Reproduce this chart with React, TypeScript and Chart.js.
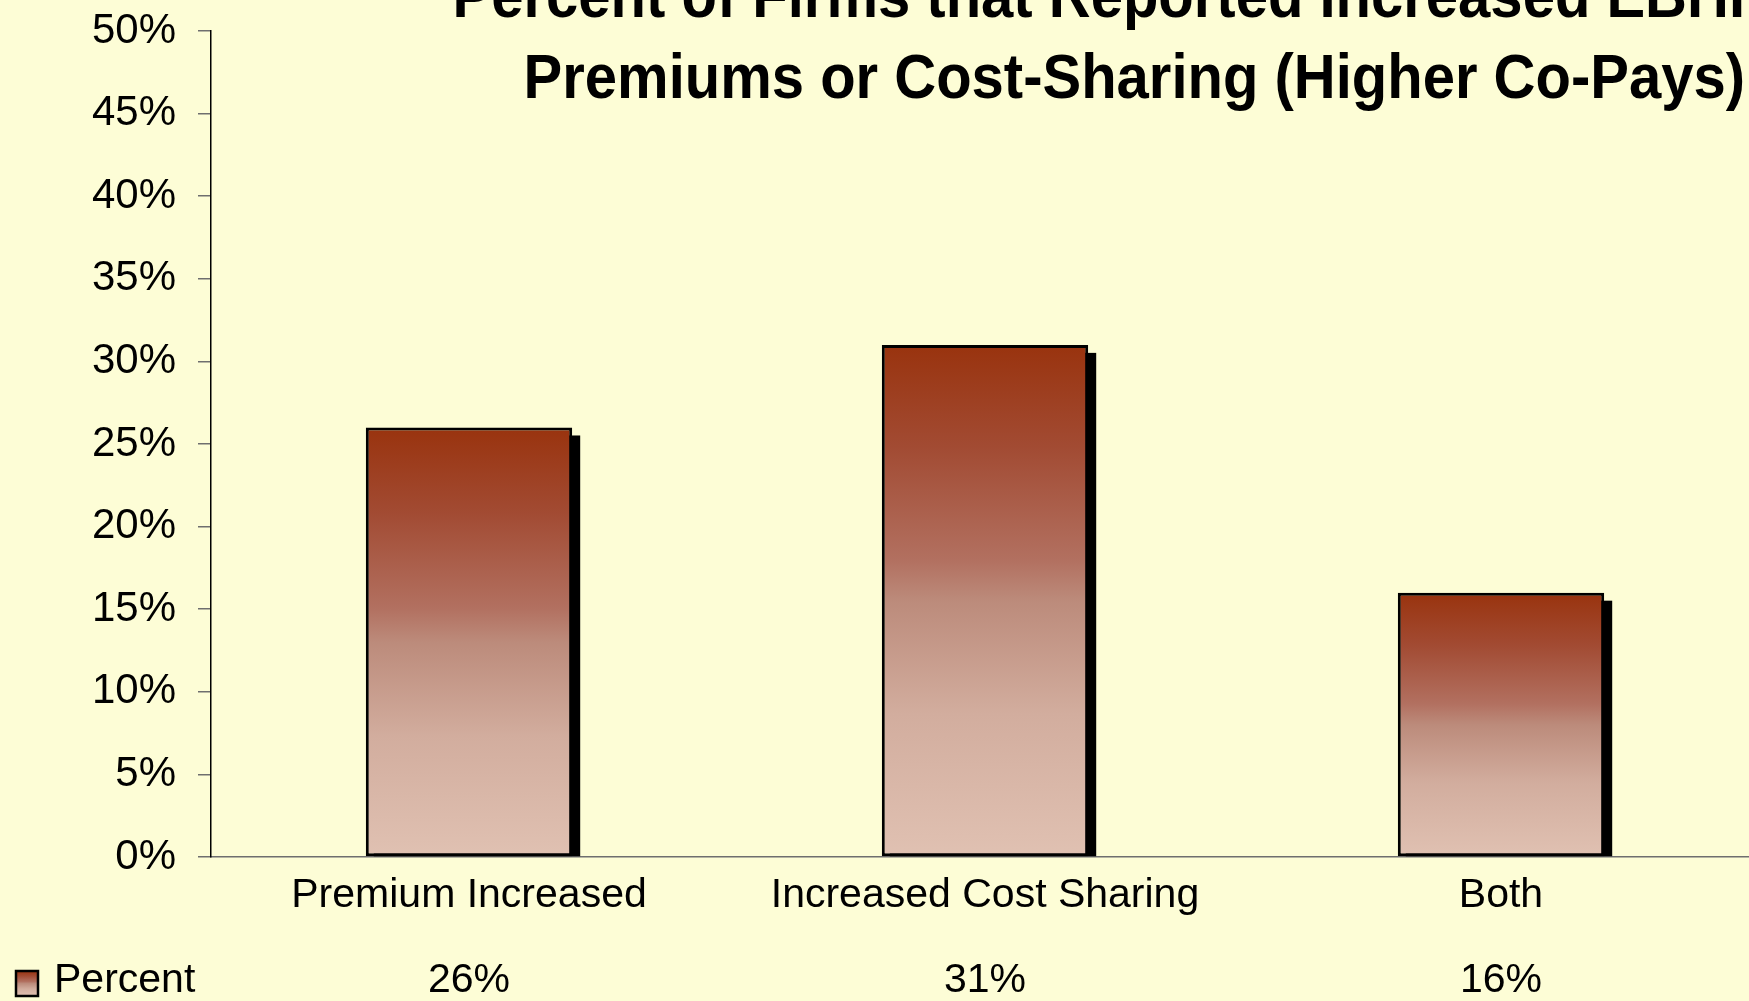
import React, { useEffect, useRef } from 'react';
import { Chart, registerables } from 'chart.js';

Chart.register(...registerables);

// ---- data ----
const TITLE_LINES = [
  'Percent of Firms that Reported Increased EBHI',
  'Premiums or Cost-Sharing (Higher Co-Pays)',
];
const CATEGORIES = ['Premium Increased', 'Increased Cost Sharing', 'Both'];
const SERIES_NAME = 'Percent';
const PERCENT_VALUES = [26, 31, 16];
const Y_MIN = 0;
const Y_MAX = 50;
const Y_STEP = 5;

// ---- styles ----
const BG = '#FDFDD6';
const FONT = "'Liberation Sans', Arial, sans-serif";
const GRAD_STOPS: [number, string][] = [
  [0, '#99330E'],
  [0.2, '#A24B33'],
  [0.42, '#B27060'],
  [0.5, '#BC8B7B'],
  [0.72, '#D2AD9E'],
  [1, '#E0C1B2'],
];
const CANVAS_W = 1759;
const CANVAS_H = 1001;

function makeGradient(ctx: CanvasRenderingContext2D, top: number, bottom: number) {
  const g = ctx.createLinearGradient(0, top, 0, bottom);
  GRAD_STOPS.forEach(([o, c]) => g.addColorStop(o, c));
  return g;
}

const shadowPlugin = {
  id: 'barShadow',
  beforeDatasetsDraw(chart: any) {
    const ctx = chart.ctx as CanvasRenderingContext2D;
    const meta = chart.getDatasetMeta(0);
    ctx.save();
    ctx.fillStyle = '#000000';
    meta.data.forEach((el: any) => {
      const { x, y, base, width } = el.getProps(['x', 'y', 'base', 'width'], true);
      const off = 8;
      ctx.fillRect(x - width / 2 + off, y + off, width, base - y - off);
    });
    ctx.restore();
  },
};

const titlePlugin = {
  id: 'slideTitle',
  afterDraw(chart: any) {
    const ctx = chart.ctx as CanvasRenderingContext2D;
    const right = chart.width - 14;
    const baselines = [17, 98];
    ctx.save();
    ctx.fillStyle = '#000000';
    ctx.font = `bold 58px ${FONT}`;
    ctx.textAlign = 'right';
    ctx.textBaseline = 'alphabetic';
    TITLE_LINES.forEach((t, i) => {
      ctx.save();
      ctx.translate(right, baselines[i]);
      ctx.scale(1, 1.08);
      ctx.fillText(t, 0, 0);
      ctx.restore();
    });
    ctx.restore();
  },
};

const tablePlugin = {
  id: 'dataTableRow',
  afterDraw(chart: any) {
    const ctx = chart.ctx as CanvasRenderingContext2D;
    const xs = chart.scales.x;
    const baseY = chart.chartArea.bottom + 135;
    ctx.save();
    ctx.fillStyle = '#000000';
    ctx.font = `41px ${FONT}`;
    ctx.textBaseline = 'alphabetic';
    ctx.textAlign = 'center';
    PERCENT_VALUES.forEach((v, i) => {
      ctx.fillText(`${v}%`, xs.getPixelForValue(i), baseY);
    });
    // legend key
    const kx = 16, ky = baseY - 21, kw = 22, kh = 25;
    ctx.fillStyle = makeGradient(ctx, ky, ky + kh);
    ctx.fillRect(kx, ky, kw, kh);
    ctx.lineWidth = 2.5;
    ctx.strokeStyle = '#000000';
    ctx.strokeRect(kx, ky, kw, kh);
    ctx.fillStyle = '#000000';
    ctx.textAlign = 'left';
    ctx.fillText(SERIES_NAME, 54, baseY);
    ctx.restore();
  },
};

export default function App() {
  const ref = useRef<HTMLCanvasElement | null>(null);

  useEffect(() => {
    document.body.style.margin = '0';
    document.body.style.background = BG;
    const canvas = ref.current!;
    const chart = new Chart(canvas, {
      type: 'bar',
      data: {
        labels: CATEGORIES,
        datasets: [
          {
            label: SERIES_NAME,
            data: PERCENT_VALUES,
            backgroundColor: (c: any) => {
              const ch = c.chart;
              if (!ch.chartArea || c.type !== 'data') return GRAD_STOPS[0][1];
              const ys = ch.scales.y;
              const top = ys.getPixelForValue(c.raw as number);
              const bottom = ys.getPixelForValue(0);
              return makeGradient(ch.ctx, top, bottom);
            },
            borderColor: '#000000',
            borderWidth: 3,
            borderSkipped: false,
            barPercentage: 0.4,
            categoryPercentage: 1,
          },
        ],
      },
      options: {
        responsive: false,
        animation: false,
        devicePixelRatio: 1,
        layout: { padding: { top: 31, left: 0, right: 0, bottom: 0 } },
        plugins: {
          legend: { display: false },
          tooltip: { enabled: false },
          title: { display: false },
        },
        scales: {
          x: {
            offset: true,
            grid: { display: false, drawTicks: false },
            border: { display: true, color: '#6E6E6E', width: 1.5 },
            ticks: {
              color: '#000000',
              font: { family: FONT, size: 41 },
              padding: 14,
              maxRotation: 0,
              autoSkip: false,
            },
            afterFit: (s: any) => {
              s.height = 144;
            },
          },
          y: {
            min: Y_MIN,
            max: Y_MAX,
            grid: {
              display: true,
              drawOnChartArea: false,
              drawTicks: true,
              tickLength: 13,
              tickColor: '#6E6E6E',
              lineWidth: 1.5,
            },
            border: { display: true, color: '#000000', width: 1.5 },
            ticks: {
              stepSize: Y_STEP,
              color: '#000000',
              font: { family: FONT, size: 42 },
              padding: 22,
              callback: (v: any) => `${v}%`,
            },
            afterFit: (s: any) => {
              s.width = 211;
              s.paddingTop = 0;
              s.paddingBottom = 0;
            },
          },
        },
      },
      plugins: [shadowPlugin, titlePlugin, tablePlugin],
    });
    return () => chart.destroy();
  }, []);

  return (
    <div
      style={{
        position: 'fixed',
        left: 0,
        top: 0,
        width: 1749,
        height: 1001,
        overflow: 'hidden',
        background: BG,
      }}
    >
      <canvas ref={ref} width={CANVAS_W} height={CANVAS_H} style={{ display: 'block', width: CANVAS_W, height: CANVAS_H }} />
    </div>
  );
}
